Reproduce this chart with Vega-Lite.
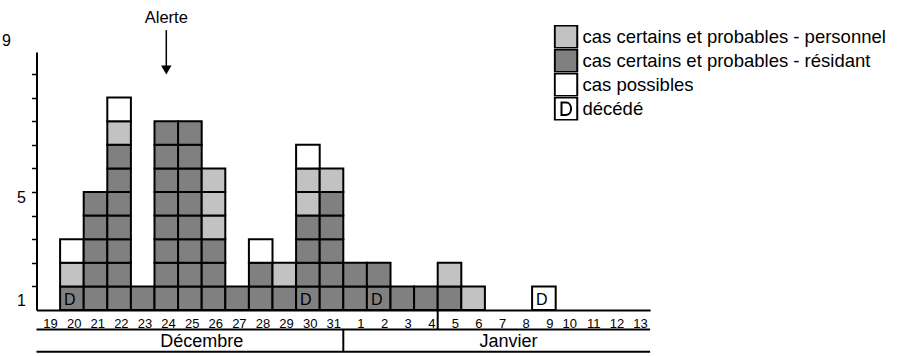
{
  "$schema": "https://vega.github.io/schema/vega-lite/v6.json",
  "width": 613.6,
  "height": 258,
  "autosize": {"type": "none"},
  "padding": {"left": 36.5, "top": 52, "right": 249.9, "bottom": 46},
  "background": "white",
  "config": {
    "view": {"stroke": null},
    "font": "Liberation Sans",
    "text": {"font": "Liberation Sans", "color": "black"}
  },
  "datasets": {
    "cas": [
      {"jour": "20 déc", "type": "cas certains et probables - résidant", "k": 1, "cas": 1, "deces": "D"},
      {"jour": "20 déc", "type": "cas certains et probables - personnel", "k": 2, "cas": 1},
      {"jour": "20 déc", "type": "cas possibles", "k": 3, "cas": 1},
      {"jour": "21 déc", "type": "cas certains et probables - résidant", "k": 1, "cas": 1},
      {"jour": "21 déc", "type": "cas certains et probables - résidant", "k": 1, "cas": 1},
      {"jour": "21 déc", "type": "cas certains et probables - résidant", "k": 1, "cas": 1},
      {"jour": "21 déc", "type": "cas certains et probables - résidant", "k": 1, "cas": 1},
      {"jour": "21 déc", "type": "cas certains et probables - résidant", "k": 1, "cas": 1},
      {"jour": "22 déc", "type": "cas certains et probables - résidant", "k": 1, "cas": 1},
      {"jour": "22 déc", "type": "cas certains et probables - résidant", "k": 1, "cas": 1},
      {"jour": "22 déc", "type": "cas certains et probables - résidant", "k": 1, "cas": 1},
      {"jour": "22 déc", "type": "cas certains et probables - résidant", "k": 1, "cas": 1},
      {"jour": "22 déc", "type": "cas certains et probables - résidant", "k": 1, "cas": 1},
      {"jour": "22 déc", "type": "cas certains et probables - résidant", "k": 1, "cas": 1},
      {"jour": "22 déc", "type": "cas certains et probables - résidant", "k": 1, "cas": 1},
      {"jour": "22 déc", "type": "cas certains et probables - personnel", "k": 2, "cas": 1},
      {"jour": "22 déc", "type": "cas possibles", "k": 3, "cas": 1},
      {"jour": "23 déc", "type": "cas certains et probables - résidant", "k": 1, "cas": 1},
      {"jour": "24 déc", "type": "cas certains et probables - résidant", "k": 1, "cas": 1},
      {"jour": "24 déc", "type": "cas certains et probables - résidant", "k": 1, "cas": 1},
      {"jour": "24 déc", "type": "cas certains et probables - résidant", "k": 1, "cas": 1},
      {"jour": "24 déc", "type": "cas certains et probables - résidant", "k": 1, "cas": 1},
      {"jour": "24 déc", "type": "cas certains et probables - résidant", "k": 1, "cas": 1},
      {"jour": "24 déc", "type": "cas certains et probables - résidant", "k": 1, "cas": 1},
      {"jour": "24 déc", "type": "cas certains et probables - résidant", "k": 1, "cas": 1},
      {"jour": "24 déc", "type": "cas certains et probables - résidant", "k": 1, "cas": 1},
      {"jour": "25 déc", "type": "cas certains et probables - résidant", "k": 1, "cas": 1},
      {"jour": "25 déc", "type": "cas certains et probables - résidant", "k": 1, "cas": 1},
      {"jour": "25 déc", "type": "cas certains et probables - résidant", "k": 1, "cas": 1},
      {"jour": "25 déc", "type": "cas certains et probables - résidant", "k": 1, "cas": 1},
      {"jour": "25 déc", "type": "cas certains et probables - résidant", "k": 1, "cas": 1},
      {"jour": "25 déc", "type": "cas certains et probables - résidant", "k": 1, "cas": 1},
      {"jour": "25 déc", "type": "cas certains et probables - résidant", "k": 1, "cas": 1},
      {"jour": "25 déc", "type": "cas certains et probables - résidant", "k": 1, "cas": 1},
      {"jour": "26 déc", "type": "cas certains et probables - résidant", "k": 1, "cas": 1},
      {"jour": "26 déc", "type": "cas certains et probables - résidant", "k": 1, "cas": 1},
      {"jour": "26 déc", "type": "cas certains et probables - résidant", "k": 1, "cas": 1},
      {"jour": "26 déc", "type": "cas certains et probables - personnel", "k": 2, "cas": 1},
      {"jour": "26 déc", "type": "cas certains et probables - personnel", "k": 2, "cas": 1},
      {"jour": "26 déc", "type": "cas certains et probables - personnel", "k": 2, "cas": 1},
      {"jour": "27 déc", "type": "cas certains et probables - résidant", "k": 1, "cas": 1},
      {"jour": "28 déc", "type": "cas certains et probables - résidant", "k": 1, "cas": 1},
      {"jour": "28 déc", "type": "cas certains et probables - résidant", "k": 1, "cas": 1},
      {"jour": "28 déc", "type": "cas possibles", "k": 3, "cas": 1},
      {"jour": "29 déc", "type": "cas certains et probables - résidant", "k": 1, "cas": 1},
      {"jour": "29 déc", "type": "cas certains et probables - personnel", "k": 2, "cas": 1},
      {"jour": "30 déc", "type": "cas certains et probables - résidant", "k": 1, "cas": 1, "deces": "D"},
      {"jour": "30 déc", "type": "cas certains et probables - résidant", "k": 1, "cas": 1},
      {"jour": "30 déc", "type": "cas certains et probables - résidant", "k": 1, "cas": 1},
      {"jour": "30 déc", "type": "cas certains et probables - résidant", "k": 1, "cas": 1},
      {"jour": "30 déc", "type": "cas certains et probables - personnel", "k": 2, "cas": 1},
      {"jour": "30 déc", "type": "cas certains et probables - personnel", "k": 2, "cas": 1},
      {"jour": "30 déc", "type": "cas possibles", "k": 3, "cas": 1},
      {"jour": "31 déc", "type": "cas certains et probables - résidant", "k": 1, "cas": 1},
      {"jour": "31 déc", "type": "cas certains et probables - résidant", "k": 1, "cas": 1},
      {"jour": "31 déc", "type": "cas certains et probables - résidant", "k": 1, "cas": 1},
      {"jour": "31 déc", "type": "cas certains et probables - résidant", "k": 1, "cas": 1},
      {"jour": "31 déc", "type": "cas certains et probables - résidant", "k": 1, "cas": 1},
      {"jour": "31 déc", "type": "cas certains et probables - personnel", "k": 2, "cas": 1},
      {"jour": "1 janv", "type": "cas certains et probables - résidant", "k": 1, "cas": 1},
      {"jour": "1 janv", "type": "cas certains et probables - résidant", "k": 1, "cas": 1},
      {"jour": "2 janv", "type": "cas certains et probables - résidant", "k": 1, "cas": 1, "deces": "D"},
      {"jour": "2 janv", "type": "cas certains et probables - résidant", "k": 1, "cas": 1},
      {"jour": "3 janv", "type": "cas certains et probables - résidant", "k": 1, "cas": 1},
      {"jour": "4 janv", "type": "cas certains et probables - résidant", "k": 1, "cas": 1},
      {"jour": "5 janv", "type": "cas certains et probables - résidant", "k": 1, "cas": 1},
      {"jour": "5 janv", "type": "cas certains et probables - personnel", "k": 2, "cas": 1},
      {"jour": "6 janv", "type": "cas certains et probables - personnel", "k": 2, "cas": 1},
      {"jour": "9 janv", "type": "cas possibles", "k": 3, "cas": 1, "deces": "D"}
    ]
  },
  "layer": [
    {
      "data": {"name": "cas"},
      "transform": [
        {"stack": "cas", "groupby": ["jour"], "sort": [{"field": "k", "order": "ascending"}], "as": ["bas", "haut"]}
      ],
      "mark": {"type": "bar", "stroke": "black", "strokeWidth": 2, "strokeJoin": "miter"},
      "encoding": {
        "x": {
          "field": "jour",
          "type": "ordinal",
          "scale": {
            "domain": ["19 déc", "20 déc", "21 déc", "22 déc", "23 déc", "24 déc", "25 déc", "26 déc", "27 déc", "28 déc", "29 déc", "30 déc", "31 déc", "1 janv", "2 janv", "3 janv", "4 janv", "5 janv", "6 janv", "7 janv", "8 janv", "9 janv", "10 janv", "11 janv", "12 janv", "13 janv"],
            "paddingInner": 0,
            "paddingOuter": 0
          },
          "axis": {
            "title": null,
            "labelExpr": "split(datum.label, ' ')[0]",
            "ticks": false,
            "tickSize": 0,
            "grid": false,
            "labelAngle": 0,
            "labelAlign": "right",
            "labelOffset": 9.5,
            "labelPadding": 7,
            "labelFontSize": 13,
            "labelFont": "Liberation Sans",
            "labelColor": "black",
            "labelOverlap": false,
            "labelFlush": false,
            "domainColor": "black",
            "domainWidth": 2
          }
        },
        "y": {
          "field": "bas",
          "type": "quantitative",
          "stack": null,
          "scale": {"domain": [0, 10.932], "nice": false, "zero": false},
          "axis": {
            "values": [0.42, 1, 2, 3, 4, 4.78, 5, 6, 7, 8, 9, 10],
            "tickCount": 40,
            "labelExpr": "datum.value < 0.5 ? '1' : (datum.value > 4.7 && datum.value < 4.9 ? '5' : '')",
            "tickOpacity": {"condition": {"test": "datum.value % 1 == 0", "value": 1}, "value": 0},
            "tickSize": 5,
            "tickWidth": 1.5,
            "tickColor": "black",
            "grid": false,
            "domainColor": "black",
            "domainWidth": 2,
            "labelFont": "Liberation Sans",
            "labelFontSize": 16,
            "labelColor": "black",
            "labelPadding": 6,
            "labelBaseline": "middle",
            "labelOverlap": false,
            "labelFlush": false,
            "title": "9",
            "titleAngle": 0,
            "titleX": -30.5,
            "titleY": -7,
            "titleAlign": "center",
            "titleBaseline": "alphabetic",
            "titleFont": "Liberation Sans",
            "titleFontSize": 16,
            "titleFontWeight": "normal",
            "titleColor": "black"
          }
        },
        "y2": {"field": "haut"},
        "fill": {
          "field": "type",
          "type": "nominal",
          "scale": {
            "domain": ["cas certains et probables - personnel", "cas certains et probables - résidant", "cas possibles", "décédé"],
            "range": ["#c2c2c2", "#808080", "#ffffff", "#ffffff"]
          },
          "legend": {
            "title": null,
            "orient": "none",
            "legendX": 517,
            "legendY": -27,
            "padding": 0,
            "symbolType": "square",
            "symbolSize": 506,
            "symbolStrokeColor": "black",
            "symbolStrokeWidth": 2,
            "symbolOpacity": 1,
            "clipHeight": 23.5,
            "rowPadding": 0,
            "labelFont": "Liberation Sans",
            "labelFontSize": 18.5,
            "labelColor": "black",
            "labelOffset": 4,
            "labelLimit": 500,
            "encode": {
              "symbols": {
                "update": {
                  "shape": {"signal": "datum.value === 'décédé' ? 'M-1,-1H1V1H-1Z M-0.4,-0.55V0.55H0C0.6,0.55 0.6,-0.55 0,-0.55Z' : 'square'"}
                }
              }
            }
          }
        }
      }
    },
    {
      "data": {"name": "cas"},
      "transform": [
        {"stack": "cas", "groupby": ["jour"], "sort": [{"field": "k", "order": "ascending"}], "as": ["bas", "haut"]},
        {"filter": "datum.deces == 'D'"}
      ],
      "mark": {"type": "text", "fontSize": 16, "baseline": "alphabetic", "dy": -5, "dx": -2, "color": "black"},
      "encoding": {
        "x": {"field": "jour", "type": "ordinal"},
        "y": {"field": "bas", "type": "quantitative"},
        "text": {"field": "deces"}
      }
    },
    {
      "data": {"values": [{}]},
      "mark": {"type": "text", "fontSize": 16.5, "baseline": "alphabetic", "align": "center", "color": "black"},
      "encoding": {
        "x": {"datum": "24 déc", "type": "ordinal", "bandPosition": 0.5},
        "y": {"datum": 12.17, "type": "quantitative"},
        "text": {"value": "Alerte"}
      }
    },
    {
      "data": {"values": [{}]},
      "mark": {"type": "rule", "color": "black", "strokeWidth": 1.5},
      "encoding": {
        "x": {"datum": "24 déc", "type": "ordinal", "bandPosition": 0.5},
        "y": {"datum": 11.86, "type": "quantitative"},
        "y2": {"datum": 10.33}
      }
    },
    {
      "data": {"values": [{}]},
      "mark": {"type": "point", "shape": "triangle-down", "filled": true, "color": "black", "opacity": 1, "size": 110},
      "encoding": {
        "x": {"datum": "24 déc", "type": "ordinal", "bandPosition": 0.5},
        "y": {"datum": 10.17, "type": "quantitative"}
      }
    },
    {
      "data": {"values": [{}]},
      "mark": {"type": "rule", "color": "black", "strokeWidth": 2},
      "encoding": {
        "y": {"datum": -0.826, "type": "quantitative"}
      }
    },
    {
      "data": {"values": [{}]},
      "mark": {"type": "rule", "color": "black", "strokeWidth": 2},
      "encoding": {
        "y": {"datum": -1.767, "type": "quantitative"}
      }
    },
    {
      "data": {"values": [{}]},
      "mark": {"type": "rule", "color": "black", "strokeWidth": 2},
      "encoding": {
        "x": {"datum": "5 janv", "type": "ordinal", "bandPosition": 0},
        "y": {"datum": 0, "type": "quantitative"},
        "y2": {"datum": -0.826}
      }
    },
    {
      "data": {"values": [{}]},
      "mark": {"type": "rule", "color": "black", "strokeWidth": 2},
      "encoding": {
        "x": {"datum": "1 janv", "type": "ordinal", "bandPosition": 0},
        "y": {"datum": -0.826, "type": "quantitative"},
        "y2": {"datum": -1.767}
      }
    },
    {
      "data": {"values": [{}]},
      "mark": {"type": "text", "fontSize": 18, "baseline": "alphabetic", "align": "center", "color": "black"},
      "encoding": {
        "x": {"datum": "26 déc", "type": "ordinal", "bandPosition": 0},
        "y": {"datum": -1.555, "type": "quantitative"},
        "text": {"value": "Décembre"}
      }
    },
    {
      "data": {"values": [{}]},
      "mark": {"type": "text", "fontSize": 18, "baseline": "alphabetic", "align": "center", "color": "black"},
      "encoding": {
        "x": {"datum": "8 janv", "type": "ordinal", "bandPosition": 0},
        "y": {"datum": -1.555, "type": "quantitative"},
        "text": {"value": "Janvier"}
      }
    }
  ]
}
